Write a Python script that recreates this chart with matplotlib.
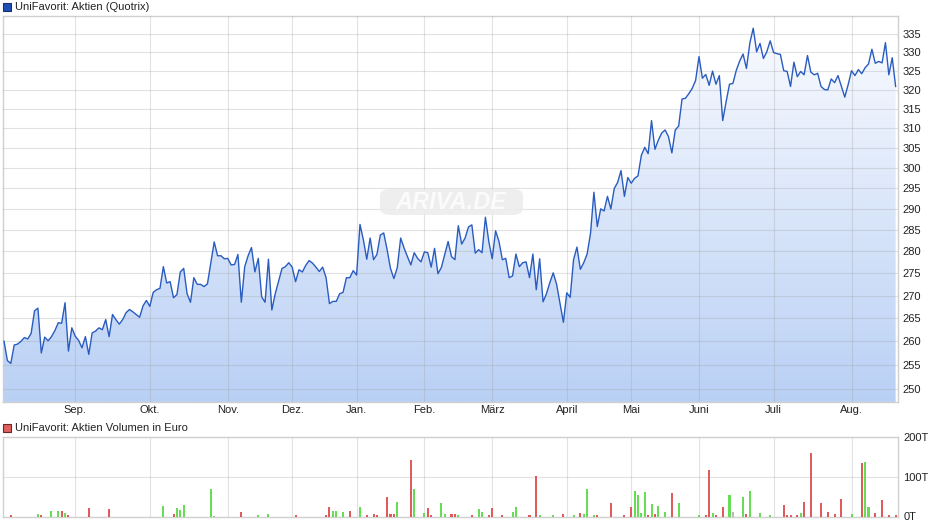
import numpy as np
import matplotlib
matplotlib.use('Agg')
import matplotlib.pyplot as plt
from matplotlib.colors import LinearSegmentedColormap
from matplotlib.patches import Rectangle, FancyBboxPatch
from matplotlib.ticker import FixedLocator, NullLocator, NullFormatter, FixedFormatter

plt.rcParams['font.family'] = ['Liberation Sans', 'DejaVu Sans']

# ---------------- data ----------------
price = [
    260.0, 255.9, 255.3, 259.2, 259.4, 260.0, 260.8, 260.5, 261.7, 266.6,
    267.2, 257.5, 260.9, 260.1, 261.0, 262.3, 264.0, 263.9, 268.4, 257.9,
    262.9, 261.1, 260.2, 258.6, 261.0, 257.2, 261.8, 262.2, 262.9, 262.5,
    264.7, 261.0, 265.8, 264.7, 263.7, 264.7, 266.2, 266.9, 266.4, 265.8,
    265.2, 267.7, 268.9, 267.6,
    270.7, 271.3, 271.6, 276.5, 272.8, 273.1, 269.5, 270.2, 275.3, 276.1,
    270.4, 268.5, 274.0, 272.5, 272.5, 272.0, 272.6, 277.3, 282.2, 279.0,
    279.0, 278.3, 278.4, 276.9, 277.0, 279.3, 268.5, 276.5, 279.0, 280.9,
    275.3, 278.4, 269.7, 268.5, 278.2, 266.8, 270.4, 273.2, 276.1, 276.5,
    277.4, 276.4, 273.1, 275.8, 275.3,
    276.8,
    277.9, 277.3, 276.4, 275.4, 276.4, 274.0, 268.2, 268.7, 268.7, 270.4,
    270.7, 274.0, 274.0, 275.6, 274.6, 286.3, 282.7, 278.2, 283.1, 278.1,
    279.3, 283.8, 284.3, 280.4, 276.1, 273.8, 276.3, 283.1, 280.8, 278.8,
    276.9, 279.7, 278.4, 277.6, 279.9, 279.7, 276.4, 280.7, 274.9, 276.3,
    279.3, 282.3, 278.8, 278.1,
    286.0, 281.7, 283.1, 285.7, 286.2, 279.6, 280.4, 279.7, 288.0, 282.3,
    278.3, 284.8, 282.3, 278.1, 278.4, 274.0, 274.4, 279.4, 276.5, 277.4,
    277.6, 274.0, 279.4, 271.3, 278.3, 268.6, 270.4, 272.9, 275.1, 272.5,
    268.2, 264.1, 270.6, 269.6, 278.1, 281.0, 275.9, 277.4, 279.4, 284.2,
    294.0, 285.8, 290.0,
    289.5, 293.0, 290.0, 294.9, 296.4, 299.3, 293.0, 297.6, 296.2, 297.4,
    298.0, 303.1, 305.1, 303.5, 311.9, 304.6, 306.9, 308.7, 309.5, 307.8,
    303.7, 309.5, 310.5, 317.5, 317.7, 318.9, 320.3, 322.4, 328.8, 323.0,
    324.0, 321.1, 324.9, 321.4, 323.7, 311.9, 316.8, 321.4, 321.6, 325.1,
    327.6, 329.5, 325.6, 332.5, 336.6,
    330.1, 332.4, 328.3, 330.1, 333.1, 329.9, 329.6, 329.4, 325.0, 324.8,
    320.8, 327.3, 323.4, 324.8, 323.9, 329.1, 324.6, 323.9, 324.3, 320.8,
    320.0, 319.9, 322.8, 321.8, 323.7, 320.8, 318.0, 321.3, 325.0, 323.7,
    325.3, 324.2, 325.8, 326.8, 330.8, 327.0, 327.5, 327.1, 332.6, 323.9,
    328.5, 320.8,
]

month_labels = ['Sep.', 'Okt.', 'Nov.', 'Dez.', 'Jan.', 'Feb.', 'März',
                'April', 'Mai', 'Juni', 'Juli', 'Aug.']
month_pos = [21, 43, 66, 85, 104, 124, 144, 166, 185, 205, 227, 250]

price_ticks = list(range(250, 340, 5))

# volume (thousand EUR), by trading-day index; d = down (red), u = up (green), n = unchanged (grey)
vol_idx = [2, 10, 11, 14, 16, 17, 18, 19, 25, 31, 47, 50, 51, 52, 53, 61, 62, 70, 75, 78,
           86, 95, 96, 97, 98, 100, 102, 105, 107, 109, 110, 113, 114, 115, 116, 120, 121,
           124, 125, 126, 129, 130, 132, 133, 134, 138, 140, 141, 143, 144, 147, 150, 151,
           155, 157, 158, 162, 165, 168, 170, 171, 172, 174, 175, 179, 183, 185, 186, 187,
           188, 189, 190, 191, 192, 193, 195, 197, 199, 205, 207, 208, 209, 210, 212, 214,
           215, 218, 219, 220, 223, 226, 230, 231, 232, 234, 235, 236, 238, 241, 243, 245,
           247, 250, 253, 254, 255, 257, 259, 261, 263]
vol_val = [4, 6, 5, 14, 13, 14, 10, 3, 22, 19, 27, 7, 21, 17, 30, 68, 2, 12, 3, 7,
           4, 4, 24, 14, 13, 12, 14, 24, 3, 7, 3, 50, 7, 7, 37, 143, 70,
           9, 22, 4, 35, 7, 7, 7, 4, 3, 19, 12, 4, 22, 4, 12, 24,
           4, 103, 4, 3, 7, 4, 9, 7, 68, 4, 3, 35, 3, 24, 65, 55,
           9, 62, 4, 32, 7, 27, 12, 60, 35, 4, 3, 118, 9, 3, 24, 55,
           12, 50, 7, 65, 9, 4, 30, 3, 3, 3, 9, 37, 159, 35, 12, 7,
           45, 7, 134, 136, 24, 9, 42, 4, 4]
vol_dir = ['d', 'u', 'd', 'u', 'u', 'd', 'u', 'd', 'd', 'd', 'u', 'd', 'u', 'u', 'u', 'u', 'u', 'd', 'u', 'u',
           'd', 'd', 'd', 'u', 'u', 'u', 'd', 'u', 'd', 'd', 'd', 'd', 'd', 'd', 'u', 'd', 'u',
           'u', 'd', 'd', 'u', 'u', 'd', 'd', 'u', 'd', 'u', 'u', 'd', 'd', 'd', 'u', 'u',
           'd', 'd', 'u', 'u', 'd', 'u', 'd', 'u', 'u', 'u', 'd', 'd', 'd', 'd', 'u', 'u',
           'u', 'u', 'd', 'u', 'd', 'u', 'u', 'd', 'u', 'u', 'd', 'd', 'u', 'd', 'd', 'u',
           'n', 'u', 'd', 'u', 'u', 'u', 'd', 'd', 'd', 'd', 'u', 'd', 'd', 'd', 'd', 'd',
           'd', 'u', 'd', 'u', 'u', 'd', 'd', 'd', 'd']
vol_ticks = [0, 100, 200]
vol_tick_labels = ['0T', '100T', '200T']

title_price = 'UniFavorit: Aktien (Quotrix)'
title_vol = 'UniFavorit: Aktien Volumen in Euro'

# ---------------- styling ----------------
W, H = 940, 526
fig = plt.figure(figsize=(W / 100, H / 100), dpi=100)
fig.patch.set_facecolor('white')


def frac(l, t, r, b):
    return [l / W, 1 - b / H, (r - l) / W, (b - t) / H]


GRID = '#a0a0a0'
GRID_ALPHA = 0.3
FRAME = '#d0d0d0'
TXT = '#222222'
LINE = '#2a5cc0'
dir_colors = {'d': '#e05c5c', 'u': '#66dd55', 'n': '#bbbbbb'}

x = np.arange(len(price))
xmin, xmax = -0.3, len(price) - 1 + 0.7

# ---- price panel ----
ax = fig.add_axes(frac(3, 16, 898, 402))
ax.set_yscale('log')
ax.set_xlim(xmin, xmax)
ylo, yhi = 247.3, 340.0

cmap = LinearSegmentedColormap.from_list('fill', ['#b9d0f5', '#fbfcff'])
grad = np.linspace(0, 1, 256).reshape(-1, 1)
im = ax.imshow(grad, cmap=cmap, aspect='auto', extent=[0, 1, 0, 1],
               transform=ax.transAxes, origin='lower', zorder=1,
               interpolation='bilinear')
poly = ax.fill_between(x, price, 200, facecolor='none', edgecolor='none', linewidth=0)
im.set_clip_path(poly.get_paths()[0], transform=ax.transData)
ax.plot(x, price, color=LINE, lw=1.0, zorder=3, solid_joinstyle='round')
ax.set_xlim(xmin, xmax)
ax.set_ylim(ylo, yhi)

ax.yaxis.set_major_locator(FixedLocator(price_ticks))
ax.yaxis.set_major_formatter(FixedFormatter([str(v) for v in price_ticks]))
ax.yaxis.set_minor_locator(NullLocator())
ax.yaxis.set_minor_formatter(NullFormatter())
ax.yaxis.tick_right()
ax.set_xticks(month_pos)
ax.set_xticklabels(month_labels)
ax.tick_params(axis='both', length=0, labelsize=8, colors=TXT)
ax.tick_params(axis='y', pad=3)
ax.tick_params(axis='x', pad=2)
ax.grid(True, color=GRID, alpha=GRID_ALPHA, lw=0.8)
ax.set_axisbelow(False)
for s in ax.spines.values():
    s.set_color(FRAME)
    s.set_linewidth(1.0)

# watermark
wm = FancyBboxPatch((380 / W, 1 - 215 / H), 143 / W, 26 / H,
                    boxstyle='round,pad=0,rounding_size=0.012',
                    transform=fig.transFigure, facecolor='#ececec',
                    edgecolor='none', alpha=0.85, zorder=4)
fig.patches.append(wm)
fig.text(451 / W, 1 - 202.5 / H, 'ARIVA.DE', ha='center', va='center',
         fontsize=17, fontstyle='italic', fontweight='bold', color='#fbfbfb',
         zorder=5)

# legend header
fig.patches.append(Rectangle((3 / W, 1 - 11 / H), 8 / W, 8 / H, transform=fig.transFigure,
                             facecolor='#1f4fb5', edgecolor='#1a2f70', lw=0.8))
fig.text(15 / W, 1 - 7.5 / H, title_price, ha='left', va='center', fontsize=8, color=TXT)

# ---- volume panel ----
axv = fig.add_axes(frac(3, 437, 898, 516.5))
axv.bar(vol_idx, vol_val, width=0.6, color=[dir_colors[d] for d in vol_dir],
        linewidth=0, zorder=3)
axv.set_xlim(xmin, xmax)
axv.set_ylim(0, 200)
axv.set_yticks(vol_ticks)
axv.set_yticklabels(vol_tick_labels)
axv.yaxis.tick_right()
axv.set_xticks(month_pos)
axv.set_xticklabels([])
axv.tick_params(axis='both', length=0, labelsize=8, colors=TXT)
axv.tick_params(axis='y', pad=4)
axv.grid(True, color=GRID, alpha=GRID_ALPHA, lw=0.8)
axv.set_axisbelow(True)
for s in axv.spines.values():
    s.set_color(FRAME)
    s.set_linewidth(1.0)

fig.patches.append(Rectangle((3 / W, 1 - 432 / H), 8 / W, 8 / H, transform=fig.transFigure,
                             facecolor='#e06060', edgecolor='#702525', lw=0.8))
fig.text(15 / W, 1 - 428 / H, title_vol, ha='left', va='center', fontsize=8, color=TXT)

fig.savefig('out.png', dpi=100)
